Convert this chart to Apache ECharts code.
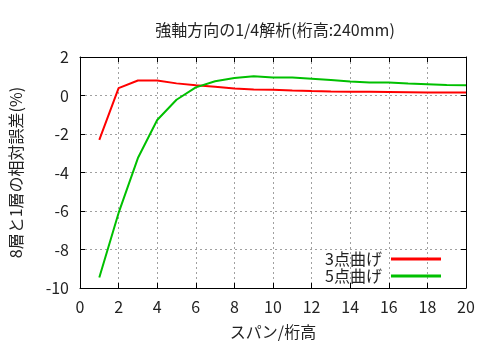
<!DOCTYPE html>
<html>
<head>
<meta charset="utf-8">
<script src="https://cdn.jsdelivr.net/npm/echarts@6/dist/echarts.min.js"></script>
<style>
  html, body { margin: 0; padding: 0; background: #fff; }
  #chart { width: 500px; height: 350px; }
</style>
</head>
<body>
<div id="chart"></div>
<script>
// Span-to-depth ratio
const spans = [1, 2, 3, 4, 5, 6, 7, 8, 9, 10, 11, 12, 13, 14, 15, 16, 17, 18, 19, 20];
// Relative error (%) between 8-layer and 1-layer models
const threePointBend = [-2.3, 0.38, 0.78, 0.78, 0.63, 0.53, 0.46, 0.36, 0.31, 0.30, 0.26, 0.23, 0.21, 0.20, 0.19, 0.18, 0.17, 0.16, 0.15, 0.15];
const fivePointBend = [-9.45, -6.1, -3.25, -1.27, -0.22, 0.42, 0.74, 0.91, 1.0, 0.94, 0.93, 0.87, 0.80, 0.73, 0.68, 0.67, 0.62, 0.58, 0.54, 0.53];
const seriesNames = ['3点曲げ', '5点曲げ'];

const FONT = '"Noto Sans CJK JP", "DejaVu Sans", sans-serif';
const TXT = '#222';

const chart = echarts.init(document.getElementById('chart'), null, { renderer: 'canvas' });

const gridLine = { show: true, lineStyle: { color: '#a0a0a0', type: [2, 3], width: 1 } };
const tickIn = { show: true, inside: true, length: 5, lineStyle: { color: '#000' } };
const labelStyle = { fontFamily: FONT, fontSize: 16, color: TXT };

chart.setOption({
  animation: false,
  title: {
    text: '強軸方向の1/4解析(桁高:240mm)',
    left: 270, top: 17, textAlign: 'center',
    textStyle: { fontFamily: FONT, fontSize: 16, fontWeight: 'normal', color: TXT }
  },
  grid: { left: 79, right: 34, top: 57, bottom: 62 },
  legend: {
    orient: 'vertical', right: 54, top: 246, align: 'right',
    itemWidth: 50, itemHeight: 3, itemGap: 1, icon: 'rect',
    textStyle: { fontFamily: FONT, fontSize: 16, color: TXT, padding: [0, 4, 0, 0] },
    data: seriesNames
  },
  xAxis: [{
    type: 'value', min: 0, max: 20, interval: 2,
    name: 'スパン/桁高', nameLocation: 'middle', nameGap: 36,
    nameTextStyle: labelStyle,
    axisLine: { show: true, onZero: false, lineStyle: { color: '#000', width: 1 } },
    axisTick: tickIn, axisLabel: Object.assign({ margin: 11 }, labelStyle),
    splitLine: gridLine
  }, {
    type: 'value', min: 0, max: 20, interval: 2, position: 'top',
    axisLine: { show: true, onZero: false, lineStyle: { color: '#000', width: 1 } },
    axisTick: tickIn, axisLabel: { show: false }, splitLine: { show: false }
  }],
  yAxis: [{
    type: 'value', min: -10, max: 2, interval: 2,
    name: '8層と1層の相対誤差(%)', nameLocation: 'middle', nameGap: 56,
    nameTextStyle: labelStyle,
    axisLine: { show: true, onZero: false, lineStyle: { color: '#000', width: 1 } },
    axisTick: tickIn, axisLabel: Object.assign({ margin: 11 }, labelStyle),
    splitLine: gridLine
  }, {
    type: 'value', min: -10, max: 2, interval: 2, position: 'right',
    axisLine: { show: true, onZero: false, lineStyle: { color: '#000', width: 1 } },
    axisTick: tickIn, axisLabel: { show: false }, splitLine: { show: false }
  }],
  series: [{
    name: seriesNames[0], type: 'line', showSymbol: false,
    color: '#ff0000', lineStyle: { width: 2 },
    data: spans.map((s, i) => [s, threePointBend[i]])
  }, {
    name: seriesNames[1], type: 'line', showSymbol: false,
    color: '#00c000', lineStyle: { width: 2 },
    data: spans.map((s, i) => [s, fivePointBend[i]])
  }]
});
</script>
</body>
</html>
